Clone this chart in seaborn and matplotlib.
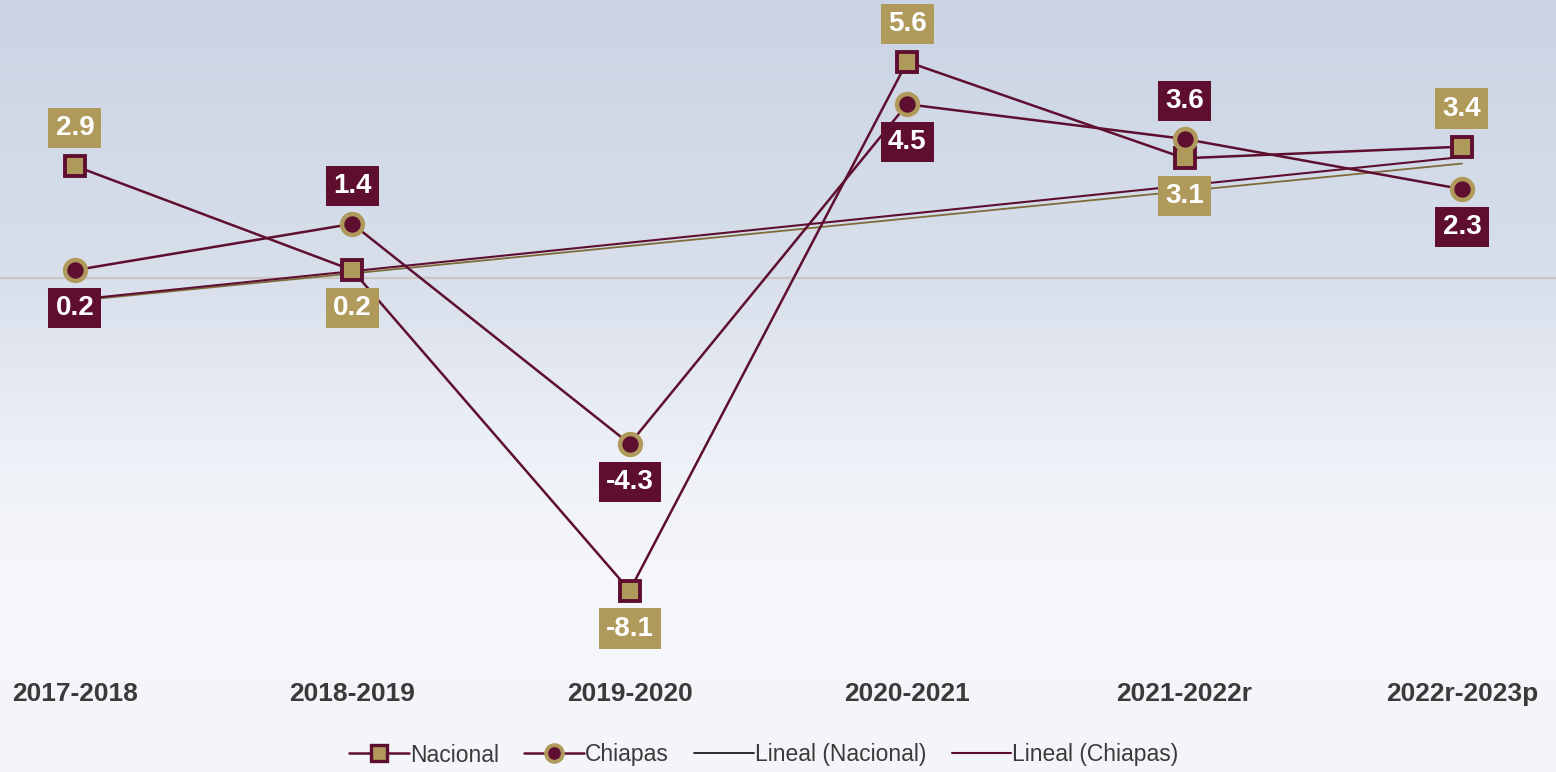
import numpy as np
import pandas as pd
import matplotlib.pyplot as plt
import seaborn as sns
from matplotlib.colors import LinearSegmentedColormap
from matplotlib.lines import Line2D

periodos = ["2017-2018", "2018-2019", "2019-2020", "2020-2021", "2021-2022r", "2022r-2023p"]
nacional = [2.9, 0.2, -8.1, 5.6, 3.1, 3.4]
chiapas = [0.2, 1.4, -4.3, 4.5, 3.6, 2.3]
# lado de la etiqueta: 1 arriba, -1 abajo
lado_nacional = [1, -1, -1, 1, -1, 1]
lado_chiapas = [-1, 1, -1, -1, 1, -1]

GUINDA = "#5e0f30"
DORADO = "#b09a5b"
OLIVO = "#7d6c3a"
GRIS = "#3a3a3a"

sns.set_theme(style="white")
plt.rcParams['font.family'] = ['Liberation Sans', 'DejaVu Sans']

df = pd.DataFrame({"periodo": periodos, "x": range(len(periodos)),
                   "nacional": nacional, "chiapas": chiapas})

fig = plt.figure(figsize=(15.56, 7.72), dpi=100)

# fondo degradado
bg = fig.add_axes([0, 0, 1, 1])
cmap_bg = LinearSegmentedColormap.from_list(
    "fondo", [(0.0, "#cbd4e3"), (0.35, "#d8dfeb"), (0.6, "#eef1f7"), (0.75, "#f6f7fb"), (1.0, "#f3f5f9")])
grad = np.linspace(0, 1, 256).reshape(-1, 1)
bg.imshow(grad, aspect="auto", cmap=cmap_bg, extent=[0, 1, 1, 0])
bg.axis("off")

ax = fig.add_axes([0, 112 / 772, 1, 660 / 772])
ax.patch.set_alpha(0)

ax.axhline(0, color="#cbc6c2", lw=1.6, zorder=0)

# líneas de tendencia
sns.regplot(data=df, x="x", y="nacional", ax=ax, ci=None, scatter=False, truncate=True,
            line_kws=dict(color=OLIVO, lw=1.3, zorder=1))
sns.regplot(data=df, x="x", y="chiapas", ax=ax, ci=None, scatter=False, truncate=True,
            line_kws=dict(color=GUINDA, lw=1.5, zorder=1))

sns.lineplot(data=df, x="x", y="nacional", ax=ax, color=GUINDA, lw=1.8, marker="s",
             markersize=14, markerfacecolor=DORADO, markeredgecolor=GUINDA,
             markeredgewidth=2.8, zorder=3)
sns.lineplot(data=df, x="x", y="chiapas", ax=ax, color=GUINDA, lw=1.8, marker="o",
             markersize=15, markerfacecolor=GUINDA, markeredgecolor=DORADO,
             markeredgewidth=3.2, zorder=3)

def etiquetas(valores, lados, color):
    for i, (v, l) in enumerate(zip(valores, lados)):
        ax.annotate(f"{v:.1f}", (i, v), xytext=(0, 38 * l), textcoords="offset pixels",
                    ha="center", va="center", color="white", fontsize=20, fontweight="bold",
                    bbox=dict(boxstyle="square,pad=0.26", fc=color, ec="none"), zorder=5)

etiquetas(nacional, lado_nacional, DORADO)
etiquetas(chiapas, lado_chiapas, GUINDA)

ax.set_xlim(-0.27, 5.339)
ax.set_ylim(-9.9, 7.2)
ax.set_xticks(range(len(periodos)))
ax.set_xticklabels(periodos, fontsize=19, fontweight="bold", color=GRIS)
ax.tick_params(axis="x", length=0, pad=16)
ax.set_yticks([])
ax.set_xlabel("")
ax.set_ylabel("")
sns.despine(ax=ax, left=True, bottom=True)

handles = [
    Line2D([], [], color=GUINDA, lw=1.8, marker="s", markersize=11, markerfacecolor=DORADO,
           markeredgecolor=GUINDA, markeredgewidth=2.4),
    Line2D([], [], color=GUINDA, lw=1.8, marker="o", markersize=12, markerfacecolor=GUINDA,
           markeredgecolor=DORADO, markeredgewidth=2.8),
    Line2D([], [], color="#1e1e1e", lw=1.3),
    Line2D([], [], color=GUINDA, lw=1.5),
]
fig.legend(handles, ["Nacional", "Chiapas", "Lineal (Nacional)", "Lineal (Chiapas)"],
           loc="center", bbox_to_anchor=(0.491, 17 / 772), ncol=4, frameon=False,
           fontsize=16.5, labelcolor=GRIS, handlelength=2.6, handletextpad=0.05,
           columnspacing=1.1)

fig.savefig("out.png", dpi=100)
